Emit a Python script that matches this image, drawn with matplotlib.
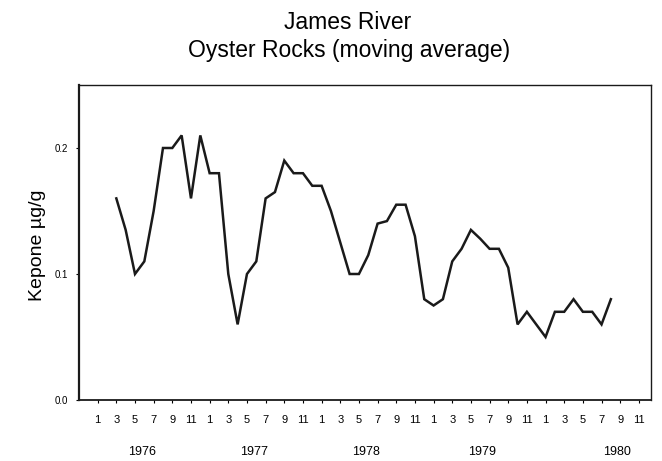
import matplotlib
matplotlib.use("Agg")
import matplotlib.pyplot as plt
import matplotlib.transforms as mtransforms

plt.rcParams['font.family'] = ['Liberation Sans', 'DejaVu Sans']

# Month index: 0 = January 1976
months = list(range(2, 56))
kepone = [0.16, 0.135, 0.10, 0.11, 0.15, 0.20, 0.20, 0.21, 0.16, 0.21,
          0.18, 0.18, 0.10, 0.06, 0.10, 0.11, 0.16, 0.165, 0.19, 0.18,
          0.18, 0.17, 0.17, 0.15, 0.125, 0.10, 0.10, 0.115, 0.14, 0.142,
          0.155, 0.155, 0.13, 0.08, 0.075, 0.08, 0.11, 0.12, 0.135, 0.128,
          0.12, 0.12, 0.105, 0.06, 0.07, 0.06, 0.05, 0.07, 0.07, 0.08,
          0.07, 0.07, 0.06, 0.08]

tick_months = list(range(0, 59, 2))
tick_labels = [str(m % 12 + 1) for m in tick_months]
years = ["1976", "1977", "1978", "1979", "1980"]
year_pos = [4.8, 16.8, 28.8, 41.2, 55.7]
y_ticks = [0.0, 0.1, 0.2]
y_tick_labels = ["0.0", "0.1", "0.2"]

fig = plt.figure(figsize=(6.62, 4.61), dpi=100)
ax = fig.add_axes([79 / 662, 1 - 400 / 461, (651 - 79) / 662, (400 - 85) / 461])

ax.plot(months, kepone, color="#1a1a1a", lw=1.8, solid_joinstyle="miter")

ax.set_xlim(-2, 59.3)
ax.set_ylim(0, 0.25)
ax.set_xticks(tick_months)
ax.set_xticklabels(tick_labels, fontsize=8)
ax.set_yticks(y_ticks)
ax.set_yticklabels(y_tick_labels, fontsize=7)
ax.tick_params(axis="x", direction="out", length=2.5, width=0.8, pad=8.5)
ax.tick_params(axis="y", direction="out", length=2.5, width=0.8, pad=5.5)

for side, lw in [("left", 1.6), ("bottom", 1.3), ("top", 1.0), ("right", 1.0)]:
    ax.spines[side].set_linewidth(lw)
    ax.spines[side].set_color("#1a1a1a")

trans = mtransforms.blended_transform_factory(ax.transData, fig.transFigure)
for yr, xp in zip(years, year_pos):
    fig.text(xp, 1 - 452 / 461, yr, transform=trans, ha="center", va="center",
             fontsize=9)

fig.text(348 / 662, 1 - 29 / 461, "James River", ha="center", va="baseline",
         fontsize=16.5)
fig.text(349 / 662, 1 - 57 / 461, "Oyster Rocks (moving average)",
         ha="center", va="baseline", fontsize=16.5)
fig.text(37 / 662, 1 - 245 / 461, "Kepone µg/g", rotation=90,
         ha="center", va="center", fontsize=14)

fig.savefig("out.png", dpi=100, facecolor="white")
